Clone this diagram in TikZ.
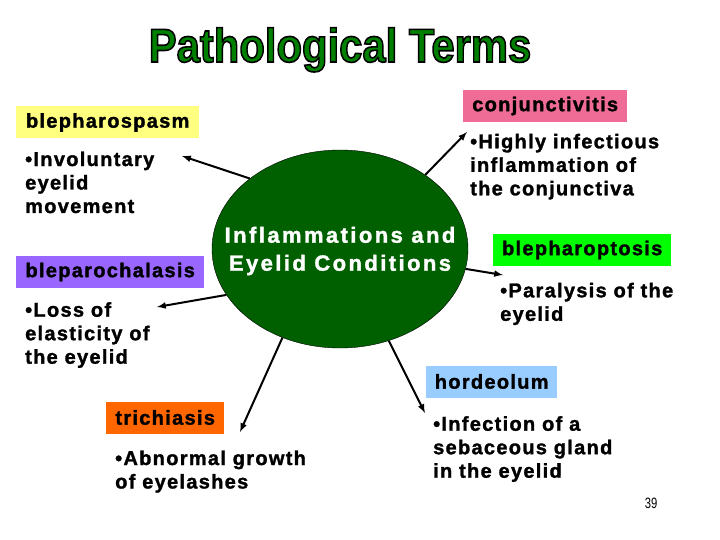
\documentclass[tikz,border=0pt]{standalone}
\usepackage{fontspec}
\usepackage{graphicx}
\usetikzlibrary{shapes.geometric}

\setmainfont{Liberation Sans}
\newfontfamily\termfont{Liberation Sans}[LetterSpace=6.5, FakeBold=1.5]
\newfontfamily\hubfont{Liberation Sans}[LetterSpace=11, FakeBold=1.5]
\newfontfamily\titlefont{Liberation Sans}

\definecolor{titlegreen}{RGB}{0,128,0}
\definecolor{hubgreen}{RGB}{0,96,0}
\definecolor{spasmyellow}{RGB}{255,255,128}
\definecolor{conjpink}{RGB}{238,108,150}
\definecolor{chalasispurple}{RGB}{153,102,255}
\definecolor{ptosisgreen}{RGB}{0,255,0}
\definecolor{hordeolumblue}{RGB}{153,204,255}
\definecolor{trichorange}{RGB}{255,102,0}

% outlined text: fill in the current colour, black stroke
\newcommand{\outlined}[1]{\special{pdf:literal direct 2 Tr 1.6 w 0 G}#1\special{pdf:literal direct 0 Tr}}

\begin{document}
\begin{tikzpicture}[x=1pt, y=-1pt, >=latex,
    term/.style={anchor=west, minimum height=32pt, inner xsep=8pt,
        font=\termfont\bfseries\fontsize{20}{24}\selectfont},
    desc/.style={anchor=base west, align=left, inner sep=0pt,
        font=\termfont\bfseries\fontsize{20}{23.5}\selectfont},
    hub/.style={ellipse, draw=black, fill=hubgreen,
        minimum width=256pt, minimum height=198pt},
    link/.style={->, line width=2pt}]

    % Frame
    \useasboundingbox (0,0) rectangle (720,540);
    \fill[white] (0,0) rectangle (720,540);

    % Title
    \node[anchor=base, inner sep=0pt] (title) at (340,62)
        {\scalebox{0.88}[1]{\titlefont\bfseries\fontsize{47.5}{50}\selectfont
        \color{titlegreen}\outlined{Pathological Terms}}};

    % Centre
    \node[hub] (main) at (340,249) {};
    \node[align=center, text=white, inner sep=0pt,
        font=\hubfont\bfseries\fontsize{22}{28}\selectfont] (maintext) at (340,251)
        {Inflammations and\\Eyelid Conditions};

    % Terms
    \node[term, fill=spasmyellow, minimum width=183pt] (spasm) at (16,122.5) {blepharospasm};
    \node[term, fill=conjpink, minimum width=164pt] (conj) at (463,106) {conjunctivitis};
    \node[term, fill=chalasispurple, minimum width=188pt] (chalasis) at (16,272) {bleparochalasis};
    \node[term, fill=ptosisgreen, minimum width=178pt] (ptosis) at (493,250) {blepharoptosis};
    \node[term, fill=hordeolumblue, minimum width=131pt] (hordeolum) at (426,381.5) {hordeolum};
    \node[term, fill=trichorange, minimum width=118pt] (trich) at (106,417.5) {trichiasis};

    % Meanings (placed by the baseline of their last line)
    \node[desc] (spasmdesc) at (25,213) {•Involuntary\\eyelid\\movement};
    \node[desc] (conjdesc) at (470,195.3) {•Highly infectious\\inflammation of\\the conjunctiva};
    \node[desc] (chalasisdesc) at (25,363.7) {•Loss of\\elasticity of\\the eyelid};
    \node[desc] (ptosisdesc) at (500,320.8) {•Paralysis of the\\eyelid};
    \node[desc] (trichdesc) at (115,488.5) {•Abnormal growth\\of eyelashes};
    \node[desc] (hordeolumdesc) at (433,477.7) {•Infection of a\\sebaceous gland\\in the eyelid};

    % Arrow ends
    \coordinate (spasmtip) at (182,156);
    \coordinate (conjtip) at (467,132);
    \coordinate (chalasistip) at (157,307);
    \coordinate (ptosistip) at (503,275);
    \coordinate (trichtip) at (240,432);
    \coordinate (hordeolumtip) at (425,413);

    \draw[link] (main.142) -- (spasmtip);
    \draw[link] (main.41) -- (conjtip);
    \draw[link] (main.202) -- (chalasistip);
    \draw[link] (main.351) -- (ptosistip);
    \draw[link] (main.237) -- (trichtip);
    \draw[link] (main.298) -- (hordeolumtip);

    % Page number
    \node (pagenum) at (651,503) {\scalebox{0.75}[1]{\fontsize{15}{18}\selectfont 39}};

\end{tikzpicture}
\end{document}
